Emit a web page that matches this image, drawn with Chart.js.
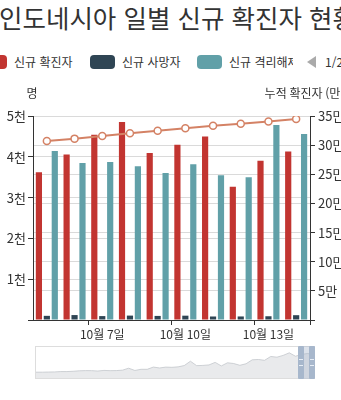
<!DOCTYPE html>
<html lang="ko">
<head>
<meta charset="utf-8">
<title>인도네시아 일별 신규 확진자 현황</title>
<script src="https://cdn.jsdelivr.net/npm/chart.js@4/dist/chart.umd.min.js"></script>
<style>
  html, body { margin: 0; padding: 0; background: #fff; overflow: hidden; }
  body {
    width: 341px; height: 400px; position: relative;
    font-family: "Noto Sans CJK KR", "Noto Sans", sans-serif; color: #333;
  }
  #main { position: absolute; left: 0; top: 0; }
  .title {
    position: absolute; left: -1px; top: 1px; font-size: 25.5px; line-height: 31px;
    white-space: nowrap; color: #333;
  }
  .legend { position: absolute; left: 0; top: 54px; width: 293px; height: 18px; overflow: hidden; }
  .item { position: absolute; top: 0; height: 16px; white-space: nowrap; font-size: 12px; line-height: 16px; }
  .sw { position: absolute; top: 1px; left: 0; width: 25px; height: 14px; border-radius: 4px; }
  .item span { position: absolute; top: 0; left: 32px; }
  .pager-arrow {
    position: absolute; left: 307px; top: 56px; width: 0; height: 0;
    border-top: 6px solid transparent; border-bottom: 6px solid transparent; border-right: 9px solid #aaa;
  }
  .pager-text { position: absolute; left: 325px; top: 54px; font-size: 12px; line-height: 16px; white-space: nowrap; }
  .zoombox {
    position: absolute; left: 35px; top: 346px; width: 280px; height: 33px;
    border: 1px solid #ddd; box-sizing: border-box; overflow: hidden;
  }
  #overview { position: absolute; left: 0; top: 0; }
  .filler { position: absolute; left: 300px; top: 346px; width: 12px; height: 33px; background: rgba(167,183,204,0.4); }
  .handle { position: absolute; top: 346px; width: 6px; height: 33px; background: #a7b7cc; border-radius: 1px; }
  .handle i { position: absolute; left: 1px; width: 4px; height: 1px; background: #e8eef6; }
</style>
</head>
<body>
<div class="title" id="title"></div>
<div class="legend" id="legend"></div>
<div class="pager-arrow"></div>
<div class="pager-text">1/2</div>
<canvas id="main" width="341" height="400"></canvas>
<div class="zoombox"><canvas id="overview" width="278" height="31"></canvas></div>
<div class="filler"></div>
<div class="handle" style="left:298px"><i style="top:13px"></i><i style="top:19px"></i></div>
<div class="handle" style="left:309px"><i style="top:13px"></i><i style="top:19px"></i></div>

<script>
// ---- chart text ----
const chartTitle = '인도네시아 일별 신규 확진자 현황';
const seriesNames = ['신규 확진자', '신규 사망자', '신규 격리해제', '누적 확진자'];
const leftAxisName = '명';
const rightAxisName = '누적 확진자 (만명)';

// ---- daily figures, 10월 5일 ~ 10월 14일 ----
const dates = ['10월 5일', '10월 6일', '10월 7일', '10월 8일', '10월 9일',
               '10월 10일', '10월 11일', '10월 12일', '10월 13일', '10월 14일'];
const newCases     = [3622, 4056, 4538, 4850, 4094, 4294, 4497, 3267, 3906, 4127];
const newDeaths    = [102, 121, 96, 108, 100, 106, 86, 87, 92, 118];
const newRecovered = [4140, 3850, 3870, 3770, 3600, 3820, 3550, 3500, 4780, 4560];
const totalCases   = [307120, 311176, 315714, 320564, 324658, 328952, 333449, 336716, 340622, 344749];

// ---- axis tick labels ----
const leftTickLabels  = ['', '1천', '2천', '3천', '4천', '5천'];
const rightTickLabels = ['', '5만', '10만', '15만', '20만', '25만', '30만', '35만'];

// ---- overview strip: new cases every 5 days since early March ----
const overviewCases = [2, 2, 35, 64, 150, 150, 220, 330, 380, 375, 280, 430, 370, 390, 490, 970,
                       420, 700, 700, 1240, 1020, 1230, 1180, 1290, 1610, 2660, 1590, 1640, 1760,
                       2380, 1520, 2280, 2100, 1670, 2040, 3000, 3080, 2880, 3810, 3640, 4070,
                       4700, 3870, 4320, 4540, 4130];

const colors = ['#c23531', '#2f4554', '#61a0a8', '#d48265'];

// title + legend
document.getElementById('title').textContent = chartTitle;
const legendPos = [-18, 90, 197];
const legend = document.getElementById('legend');
legendPos.forEach((x, i) => {
  const it = document.createElement('div');
  it.className = 'item';
  it.style.left = x + 'px';
  it.innerHTML = '<div class="sw" style="background:' + colors[i] + '"></div><span></span>';
  it.querySelector('span').textContent = seriesNames[i];
  legend.appendChild(it);
});

Chart.defaults.font.family = '"Noto Sans CJK KR", "Noto Sans", sans-serif';
Chart.defaults.font.size = 12;
Chart.defaults.color = '#333';

const axisNames = {
  id: 'axisNames',
  afterDraw(chart) {
    const { ctx } = chart;
    const y = chart.scales.y, y1 = chart.scales.y1;
    ctx.save();
    ctx.font = '12px "Noto Sans CJK KR", "Noto Sans", sans-serif';
    ctx.fillStyle = '#333';
    ctx.textAlign = 'center';
    ctx.textBaseline = 'middle';
    ctx.fillText(leftAxisName, y.right - 1, y.top - 23);
    ctx.fillText(rightAxisName, y1.left, y1.top - 23);
    ctx.restore();
  }
};

const gridColor = '#dadada';
const axisColor = '#333';

new Chart(document.getElementById('main'), {
  data: {
    labels: dates,
    datasets: [
      { type: 'bar', label: seriesNames[0], data: newCases, backgroundColor: colors[0], yAxisID: 'y', order: 1 },
      { type: 'bar', label: seriesNames[1], data: newDeaths, backgroundColor: colors[1], yAxisID: 'y', order: 1 },
      { type: 'bar', label: seriesNames[2], data: newRecovered, backgroundColor: colors[2], yAxisID: 'y', order: 1 },
      { type: 'line', label: seriesNames[3], data: totalCases, yAxisID: 'y1', order: 0,
        borderColor: colors[3], borderWidth: 2, tension: 0,
        pointRadius: 3.5, pointBackgroundColor: '#fff', pointBorderColor: colors[3], pointBorderWidth: 1.5 }
    ]
  },
  options: {
    responsive: false,
    animation: false,
    layout: { padding: { top: 116, left: 0, right: 0, bottom: 0 } },
    datasets: { bar: { categoryPercentage: 0.86, barPercentage: 0.78, borderWidth: 0 } },
    plugins: { legend: { display: false }, title: { display: false }, tooltip: { enabled: false } },
    scales: {
      x: {
        type: 'category',
        offset: true,
        afterFit: s => { s.height = 80; },
        border: { display: true, color: axisColor, width: 1 },
        grid: {
          offset: true, drawOnChartArea: false, drawTicks: true, tickLength: 5,
          color: c => (c.type !== 'tick' || c.index % 3 === 2) ? axisColor : 'rgba(0,0,0,0)'
        },
        ticks: {
          autoSkip: false, maxRotation: 0, padding: 2, color: '#333',
          callback: (v, i) => (i % 3 === 2 ? dates[i] : '')
        }
      },
      y: {
        position: 'left', min: 0, max: 5000,
        afterFit: s => { s.width = 33; },
        border: { display: true, color: axisColor, width: 1 },
        grid: { color: gridColor, tickColor: axisColor, tickLength: 5 },
        ticks: { stepSize: 1000, padding: 2, color: '#333', font: { size: 13 },
                 callback: v => leftTickLabels[Math.round(v / 1000)] }
      },
      y1: {
        position: 'right', min: 0, max: 350000,
        afterFit: s => { s.width = 31; },
        border: { display: true, color: axisColor, width: 1 },
        grid: { color: gridColor, tickColor: axisColor, tickLength: 5 },
        ticks: { stepSize: 50000, padding: 3, color: '#333', font: { size: 13 },
                 callback: v => rightTickLabels[Math.round(v / 50000)] }
      }
    }
  },
  plugins: [axisNames]
});

// overview strip under the main plot
const ovMax = Math.max(...overviewCases);
new Chart(document.getElementById('overview'), {
  type: 'line',
  data: {
    labels: overviewCases.map((_, i) => i),
    datasets: [{
      data: overviewCases, fill: 'start', tension: 0, pointRadius: 0,
      borderColor: '#c3c7cc', borderWidth: 0.8, backgroundColor: '#e9eaec'
    }]
  },
  options: {
    responsive: false, animation: false,
    layout: { padding: 0 },
    plugins: { legend: { display: false }, tooltip: { enabled: false } },
    scales: {
      x: { display: false, offset: false },
      y: { display: false, min: -0.3 * ovMax, max: 1.3 * ovMax }
    }
  }
});
</script>
</body>
</html>
